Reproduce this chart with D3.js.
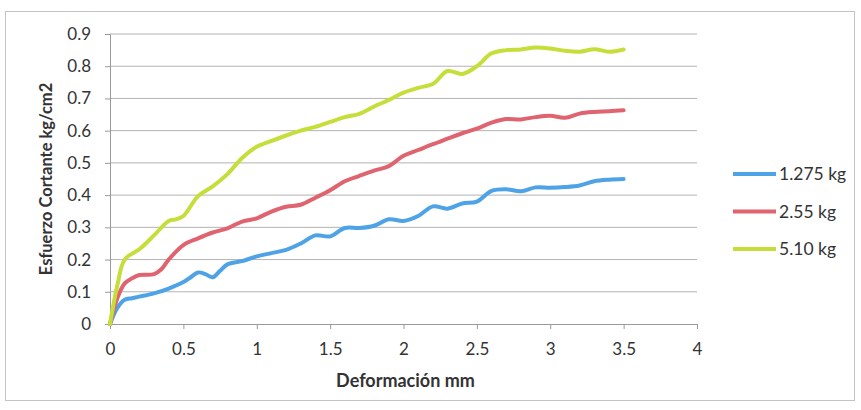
<!DOCTYPE html>
<html><head><meta charset="utf-8">
<script src="https://cdn.jsdelivr.net/npm/d3@7/dist/d3.min.js"></script>
<style>body{margin:0;background:#fff}svg{display:block}text{font-family:Lato,"Open Sans",sans-serif;fill:#333}</style>
</head><body><svg id="c" width="861" height="410"></svg>
<script>
const xBlue = [0,0.05,0.1,0.15,0.2,0.3,0.4,0.5,0.55,0.6,0.65,0.7,0.75,0.8,0.9,1.0,1.1,1.2,1.3,1.4,1.5,1.6,1.7,1.8,1.9,2.0,2.1,2.2,2.3,2.4,2.5,2.6,2.7,2.8,2.9,3.0,3.1,3.2,3.3,3.4,3.5];
const yBlue = [0,0.05,0.075,0.08,0.085,0.095,0.11,0.13,0.145,0.16,0.155,0.145,0.165,0.185,0.195,0.21,0.22,0.23,0.25,0.275,0.272,0.298,0.298,0.305,0.325,0.32,0.335,0.365,0.358,0.374,0.38,0.413,0.418,0.412,0.424,0.423,0.425,0.43,0.443,0.448,0.45];
const xRed = [0,0.05,0.1,0.15,0.2,0.3,0.35,0.4,0.5,0.6,0.7,0.8,0.9,1.0,1.1,1.2,1.3,1.4,1.5,1.6,1.7,1.8,1.9,2.0,2.1,2.2,2.3,2.4,2.5,2.6,2.7,2.8,2.9,3.0,3.1,3.2,3.3,3.4,3.5];
const yRed = [0,0.08,0.126,0.142,0.152,0.155,0.17,0.2,0.245,0.266,0.284,0.297,0.318,0.328,0.349,0.364,0.37,0.392,0.415,0.443,0.46,0.476,0.49,0.522,0.54,0.558,0.575,0.592,0.606,0.625,0.636,0.635,0.642,0.646,0.64,0.653,0.658,0.66,0.663];
const xGreen = [0,0.05,0.1,0.2,0.3,0.4,0.45,0.5,0.6,0.7,0.8,0.9,1.0,1.1,1.2,1.3,1.4,1.5,1.6,1.7,1.8,1.9,2.0,2.1,2.2,2.3,2.4,2.5,2.6,2.7,2.8,2.9,3.0,3.1,3.2,3.3,3.4,3.5];
const yGreen = [0,0.12,0.2,0.232,0.275,0.32,0.325,0.335,0.397,0.427,0.465,0.515,0.55,0.568,0.585,0.6,0.612,0.627,0.642,0.652,0.675,0.695,0.718,0.733,0.745,0.785,0.776,0.8,0.84,0.85,0.852,0.858,0.855,0.848,0.845,0.853,0.845,0.852];
const seriesNames = ["1.275 kg","2.55 kg","5.10 kg"];
const seriesColors = ["#4ea2e6","#e0646f","#c6de3a"];
const xTicks = [0,0.5,1,1.5,2,2.5,3,3.5,4];
const yTicks = [0,0.1,0.2,0.3,0.4,0.5,0.6,0.7,0.8,0.9];

const svg = d3.select("#c");
const L=110,R=697,T=34,B=324;
const x = d3.scaleLinear().domain([0,4]).range([L,R]);
const y = d3.scaleLinear().domain([0,0.9]).range([B,T]);

svg.append("rect").attr("x",5.5).attr("y",11.5).attr("width",849).attr("height",389)
  .attr("fill","none").attr("stroke","#c4c4c4");

// gridlines
svg.append("g").selectAll("line").data(yTicks.filter(d=>d>0)).join("line")
  .attr("x1",L).attr("x2",R).attr("y1",d=>y(d)).attr("y2",d=>y(d))
  .attr("stroke","#b3b3b3").attr("stroke-width",1);

const yAxis = svg.append("g").attr("transform",`translate(${L},0)`)
  .call(d3.axisLeft(y).tickValues(yTicks).tickFormat(d3.format("")).tickSize(5).tickPadding(14));
const xAxis = svg.append("g").attr("transform",`translate(0,${B})`)
  .call(d3.axisBottom(x).tickValues(xTicks).tickFormat(d3.format("")).tickSize(5).tickPadding(14));
[yAxis,xAxis].forEach(g=>{
  g.select(".domain").attr("stroke","#9a9a9a");
  g.selectAll(".tick line").attr("stroke","#9a9a9a");
  g.selectAll("text").attr("font-size",17).attr("fill","#333").style("font-family","Lato");
});

const line = d3.line().x(d=>x(d[0])).y(d=>y(d[1])).curve(d3.curveCatmullRom.alpha(0.5));
const data = [d3.zip(xBlue,yBlue), d3.zip(xRed,yRed), d3.zip(xGreen,yGreen)];
svg.append("g").selectAll("path").data(data).join("path")
  .attr("d",line).attr("fill","none")
  .attr("stroke",(d,i)=>seriesColors[i]).attr("stroke-width",4)
  .attr("stroke-linejoin","round").attr("stroke-linecap","round");

// axis titles
svg.append("text").attr("x",(L+R)/2+2).attr("y",387).attr("text-anchor","middle")
  .attr("font-size",18).attr("font-weight","bold").text("Deformación mm");
svg.append("text").attr("transform",`translate(52,${(T+B)/2}) rotate(-90)`)
  .attr("text-anchor","middle").attr("font-size",16.5).attr("font-weight","bold")
  .text("Esfuerzo Cortante kg/cm2");

// legend
const lg = svg.append("g").selectAll("g").data(seriesNames).join("g")
  .attr("transform",(d,i)=>`translate(733,${174+i*37.5})`);
lg.append("line").attr("x1",0).attr("x2",43).attr("stroke",(d,i)=>seriesColors[i]).attr("stroke-width",4);
lg.append("text").attr("x",46).attr("dy","0.35em").attr("font-size",17.5).text(d=>d);
</script></body></html>
